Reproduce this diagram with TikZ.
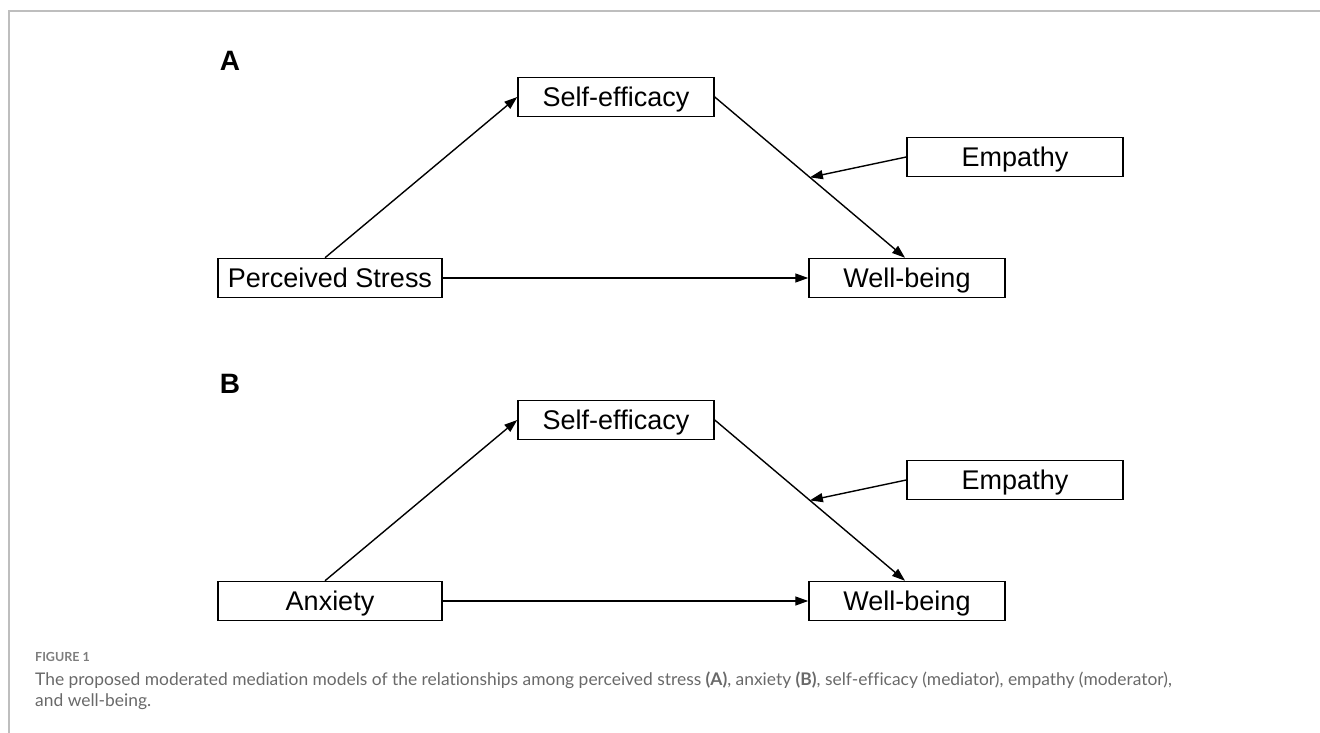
\documentclass[tikz,border=0pt]{standalone}
\usepackage{fontspec}
\setmainfont{Liberation Sans}
\newfontfamily\capfont{Lato}[Ligatures=NoCommon]
\usetikzlibrary{arrows.meta}
\definecolor{CapGray}{RGB}{105,105,105}
\definecolor{FigGray}{RGB}{125,125,125}
\definecolor{RuleGray}{RGB}{190,190,190}

\begin{document}
\begin{tikzpicture}[x=1pt,y=-1pt,
  box/.style={draw,line width=1.5pt,inner sep=0pt,minimum height=39pt,
    text height=19.5pt,text depth=0pt,font=\fontsize{27}{32}\selectfont},
  link/.style={line width=1.4pt,-{Triangle[length=13pt,width=9pt]}},
  panel/.style={font=\fontsize{28}{32}\selectfont\bfseries},
  captext/.style={anchor=base west,inner sep=0pt,text=CapGray,
    font=\capfont\fontsize{17.4}{22}\selectfont}]
\useasboundingbox (0,0) rectangle (1320,733);
\draw[RuleGray,line width=1.5pt] (1320,11) -- (9,11) -- (9,733);
\foreach \lbl/\dy/\src in {A/0/Perceived Stress, B/323/Anxiety}{
  \node[panel] (lbl\lbl) at (230,61+\dy) {\lbl};
  \node[box,minimum width=224pt] (src\lbl) at (330,278+\dy) {\src};
  \node[box,minimum width=196pt] (med\lbl) at (616,97+\dy) {Self-efficacy};
  \node[box,minimum width=196pt] (out\lbl) at (907,278+\dy) {Well-being};
  \node[box,minimum width=216pt] (mod\lbl) at (1015,157+\dy) {Empathy};
  \draw[link] ([xshift=-5pt]src\lbl.north) -- (med\lbl.west);
  \draw[link] (med\lbl.east) -- coordinate[pos=.5] (mid\lbl) ([xshift=-2pt]out\lbl.north);
  \draw[link] (mod\lbl.west) -- (mid\lbl);
  \draw[link] (src\lbl.east) -- (out\lbl.west);
}
% caption
\node[anchor=base west,inner sep=0pt,text=FigGray,
  font=\capfont\fontsize{12.5}{14}\selectfont\bfseries] (fig) at (35,661) {FIGURE 1};
\node[captext] (cap1) at (35,685)
  {The proposed moderated mediation models of the relationships among perceived stress \textbf{(A)}, anxiety \textbf{(B)}, self-efficacy (mediator), empathy (moderator),};
\node[captext] (cap2) at (35,706) {and well-being.};
\end{tikzpicture}
\end{document}
